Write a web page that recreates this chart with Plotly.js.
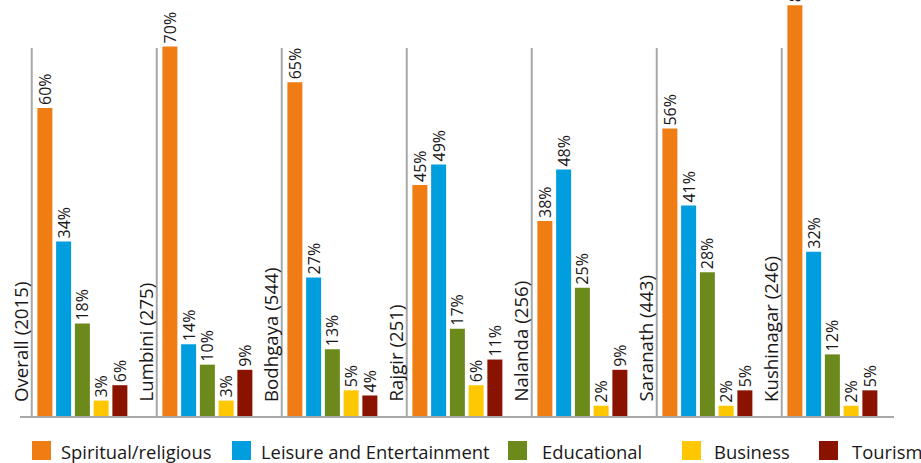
<!DOCTYPE html>
<html><head><meta charset="utf-8">
<script src="https://cdn.plot.ly/plotly-3.0.1.min.js"></script>
<style>html,body{margin:0;padding:0;background:#fff}#chart{width:921px;height:463px}</style>
</head><body><div id="chart"></div>
<script>
// ---- data ----
const categories = ['Overall (2015)','Lumbini (275)','Bodhgaya (544)','Rajgir (251)','Nalanda (256)','Saranath (443)','Kushinagar (246)'];
const seriesNames = ['Spiritual/religious','Leisure and Entertainment','Educational','Business','Tourism'];
const spiritual = [60,72,65,45,38,56,80];
const spiritualLabels = ['60%','70%','65%','45%','38%','56%','80%'];
const leisure = [34,14,27,49,48,41,32];
const educational = [18,10,13,17,25,28,12];
const business = [3,3,5,6,2,2,2];
const tourism = [6,9,4,11,9,5,5];

// ---- styles ----
const colors = ['#F07D14','#009EDE','#6B8A1B','#FFC700','#8A1300'];
const FONT = 'Open Sans, Noto Sans, sans-serif';
const TXT = '#1A1718';
const GRAY = '#A8A8A8';

const seriesValues = [spiritual, leisure, educational, business, tourism];
const seriesText = [
  spiritualLabels,
  leisure.map(v => v + '%'),
  educational.map(v => v + '%'),
  business.map(v => v + '%'),
  tourism.map(v => v + '%')
];

// geometry (category units): group pitch 125px
const barOffsets = [-0.255, -0.105, 0.045, 0.195, 0.345];
const barWidth = 0.12;
const sepOffset = -0.3;
const labelOffset = -0.394;

const traces = seriesValues.map((vals, s) => ({
  type: 'bar',
  name: seriesNames[s],
  x: categories,
  y: vals,
  offset: barOffsets[s],
  width: barWidth,
  marker: {color: colors[s], line: {width: 0}},
  text: seriesText[s],
  textposition: 'outside',
  textangle: -90,
  constraintext: 'none',
  textfont: {family: FONT, size: 16, color: TXT},
  cliponaxis: true,
  showlegend: false,
  hoverinfo: 'skip'
}));

// plot area pixel mapping for legend placement
const L = 20, R = 27, T = 0, B = 47, W = 921, H = 463;
const pw = W - L - R, ph = H - T - B;
const px2x = p => (p - L) / pw;
const py2y = p => (H - B - p) / ph;

const shapes = [];
const annotations = [];
categories.forEach((c, i) => {
  shapes.push({type: 'line', xref: 'x', yref: 'paper', x0: i + sepOffset, x1: i + sepOffset,
    y0: 0, y1: py2y(48), line: {color: GRAY, width: 2}});
  annotations.push({xref: 'x', yref: 'paper', x: i + labelOffset, y: py2y(404),
    text: c, textangle: -90, showarrow: false, xanchor: 'center', yanchor: 'bottom',
    font: {family: FONT, size: 18.7, color: TXT}});
});

const legSq = [32, 232, 508, 682, 819];
const legTx = [61, 261, 542, 714, 852];
seriesNames.forEach((n, s) => {
  shapes.push({type: 'rect', xref: 'paper', yref: 'paper',
    x0: px2x(legSq[s]), x1: px2x(legSq[s] + 19), y0: py2y(460), y1: py2y(441),
    fillcolor: colors[s], line: {width: 0}});
  annotations.push({xref: 'paper', yref: 'paper', x: px2x(legTx[s] - 2), y: py2y(451),
    text: n, showarrow: false, xanchor: 'left', yanchor: 'middle',
    font: {family: FONT, size: 18.4, color: TXT}});
});

const layout = {
  width: W, height: H,
  margin: {l: L, r: R, t: T, b: B, pad: 0},
  paper_bgcolor: '#fff', plot_bgcolor: '#fff',
  barmode: 'overlay',
  showlegend: false,
  xaxis: {type: 'category', range: [-0.394, 6.598], showticklabels: false, ticks: '',
    showgrid: false, zeroline: false, showline: true, linecolor: GRAY, linewidth: 2, fixedrange: true},
  yaxis: {range: [0, 81.04], visible: false, showgrid: false, zeroline: false, fixedrange: true},
  shapes: shapes,
  annotations: annotations,
  font: {family: FONT, color: TXT}
};

Plotly.newPlot('chart', traces, layout, {displayModeBar: false, staticPlot: true});
</script>
</body></html>
